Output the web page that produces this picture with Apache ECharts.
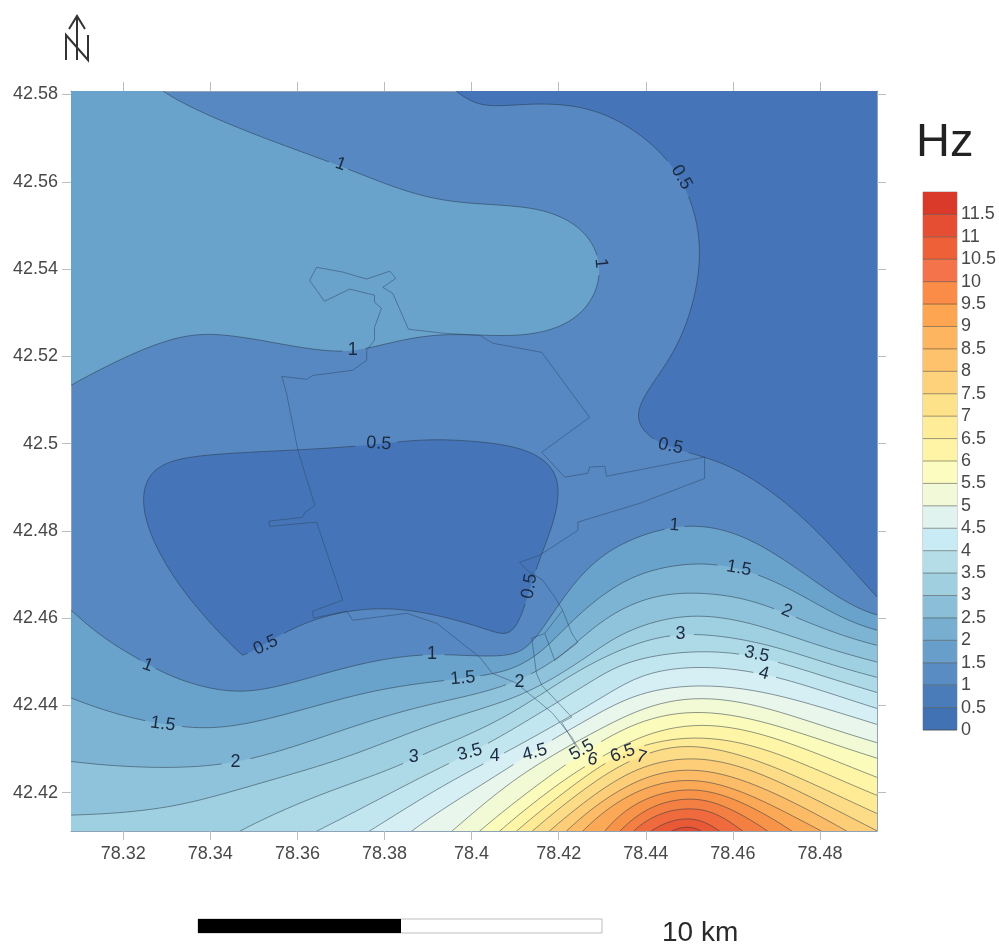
<!DOCTYPE html>
<html>
<head>
<meta charset="utf-8">
<style>html,body{margin:0;padding:0;background:#fff}#c{width:999px;height:949px}</style>
<script src="https://cdn.jsdelivr.net/npm/echarts@6/dist/echarts.min.js"></script>
</head>
<body>
<div id="c"></div>
<script>
// ---- axes ----
const lonRange = [78.3080, 78.4931];
const latRange = [42.4112, 42.5808];
const lonTicks = [78.32, 78.34, 78.36, 78.38, 78.4, 78.42, 78.44, 78.46, 78.48];
const latTicks = [42.42, 42.44, 42.46, 42.48, 42.5, 42.52, 42.54, 42.56, 42.58];
const legendLabels = [0, 0.5, 1, 1.5, 2, 2.5, 3, 3.5, 4, 4.5, 5, 5.5, 6, 6.5, 7, 7.5, 8, 8.5, 9, 9.5, 10, 10.5, 11, 11.5];
const legendMax = 12;

// ---- band colours, lowest band first ----
const plotColors = ['#4575b8','#5788c2','#69a2ca','#7db4d4','#8fc3db','#9fd0e1','#aedae7','#c2e6ef','#d5eff4','#e8f6eb','#f2f9d5','#fbfbbc','#fff5a6','#ffeb95','#fddc88','#fdcd78','#fcbb66','#fba957','#f8934a','#f47f43','#ef6a3c','#e85a36','#e04a2f','#d93a2a'];
const legendColors = ['#4172b4','#4a7cb9','#588cc2','#689fca','#78afd0','#8bbfd9','#a0cfdf','#b4dde8','#c8ebf5','#e0f3ee','#f2f9d8','#fcfcc0','#fff3a5','#ffec98','#fee28a','#fdd27a','#fdc26b','#fdb55f','#fda550','#fb8c47','#f5734a','#ee6038','#e54e32','#d93a2a'];

// ---- contour lines as [lon, lat] ----
const c05NE = [[78.3938,42.5833],[78.3961,42.5807],[78.4012,42.5773],[78.4048,42.5771],[78.4127,42.5780],[78.4218,42.5780],[78.4294,42.5764],[78.4370,42.5725],[78.4432,42.5672],[78.4471,42.5626],[78.4508,42.5558],[78.4526,42.5473],[78.4526,42.5404],[78.4508,42.5299],[78.4471,42.5221],[78.4439,42.5168],[78.4402,42.5122],[78.4379,42.5076],[78.4379,42.5046],[78.4409,42.5012],[78.4448,42.4991],[78.4524,42.4973],[78.4586,42.4955],[78.4662,42.4911],[78.4738,42.4854],[78.4816,42.4778],[78.4875,42.4710],[78.4930,42.4648],[78.4960,42.4618]];
const c05C = [[78.3474,42.4515],[78.3428,42.4556],[78.3359,42.4634],[78.3300,42.4710],[78.3256,42.4801],[78.3240,42.4863],[78.3249,42.4923],[78.3284,42.4955],[78.3346,42.4971],[78.3437,42.4978],[78.3589,42.4985],[78.3727,42.4991],[78.3819,42.5003],[78.3897,42.5012],[78.3973,42.5007],[78.4048,42.5003],[78.4110,42.4991],[78.4156,42.4973],[78.4191,42.4943],[78.4205,42.4900],[78.4195,42.4840],[78.4175,42.4778],[78.4152,42.4732],[78.4129,42.4648],[78.4110,42.4588],[78.4087,42.4556],[78.4058,42.4567],[78.4019,42.4579],[78.3934,42.4606],[78.3851,42.4620],[78.3782,42.4625],[78.3713,42.4616],[78.3635,42.4600],[78.3564,42.4565],[78.3513,42.4531],[78.3474,42.4515]];
const c1NW = [[78.3261,42.5833],[78.3284,42.5807],[78.3359,42.5768],[78.3437,42.5734],[78.3552,42.5688],[78.3667,42.5649],[78.3743,42.5619],[78.3819,42.5587],[78.3897,42.5564],[78.3973,42.5548],[78.4087,42.5548],[78.4163,42.5539],[78.4232,42.5512],[78.4278,42.5470],[78.4299,42.5413],[78.4294,42.5358],[78.4264,42.5305],[78.4218,42.5271],[78.4156,42.5250],[78.4087,42.5246],[78.4019,42.5248],[78.3934,42.5253],[78.3858,42.5244],[78.3766,42.5218],[78.3720,42.5209],[78.3651,42.5211],[78.3552,42.5230],[78.3460,42.5248],[78.3375,42.5255],[78.3313,42.5244],[78.3208,42.5202],[78.3146,42.5168],[78.3084,42.5138],[78.3054,42.5117]];
const c1S = [[78.3054,42.4641],[78.3081,42.4618],[78.3130,42.4572],[78.3185,42.4533],[78.3244,42.4503],[78.3284,42.4476],[78.3359,42.4446],[78.3437,42.4430],[78.3497,42.4430],[78.3575,42.4446],[78.3667,42.4476],[78.3789,42.4508],[78.3881,42.4517],[78.3950,42.4517],[78.4019,42.4512],[78.4081,42.4512],[78.4115,42.4522],[78.4140,42.4544],[78.4168,42.4584],[78.4193,42.4618],[78.4241,42.4694],[78.4301,42.4749],[78.4370,42.4785],[78.4448,42.4808],[78.4508,42.4815],[78.4586,42.4806],[78.4662,42.4771],[78.4738,42.4721],[78.4816,42.4664],[78.4875,42.4625],[78.4930,42.4606],[78.4960,42.4600]];
const c1_5 = [[78.3054,42.4428],[78.3081,42.4416],[78.3153,42.4389],[78.3231,42.4366],[78.3329,42.4350],[78.3398,42.4345],[78.3483,42.4354],[78.3589,42.4384],[78.3697,42.4414],[78.3773,42.4434],[78.3874,42.4451],[78.3950,42.4457],[78.4026,42.4469],[78.4081,42.4476],[78.4127,42.4499],[78.4172,42.4531],[78.4202,42.4565],[78.4278,42.4641],[78.4356,42.4694],[78.4432,42.4717],[78.4508,42.4726],[78.4570,42.4726],[78.4662,42.4703],[78.4738,42.4664],[78.4816,42.4618],[78.4875,42.4588],[78.4930,42.4572],[78.4960,42.4565]];
const c2 = [[78.3054,42.4274],[78.3081,42.4272],[78.3169,42.4260],[78.3284,42.4256],[78.3398,42.4258],[78.3490,42.4274],[78.3589,42.4304],[78.3697,42.4340],[78.3812,42.4382],[78.3927,42.4407],[78.4019,42.4428],[78.4110,42.4451],[78.4195,42.4503],[78.4248,42.4549],[78.4301,42.4600],[78.4379,42.4641],[78.4448,42.4657],[78.4524,42.4661],[78.4623,42.4648],[78.4701,42.4625],[78.4816,42.4565],[78.4930,42.4538],[78.4960,42.4531]];
const c2_5 = [[78.3054,42.4148],[78.3081,42.4148],[78.3208,42.4153],[78.3322,42.4166],[78.3437,42.4198],[78.3552,42.4235],[78.3697,42.4270],[78.3812,42.4320],[78.3927,42.4366],[78.4042,42.4396],[78.4117,42.4423],[78.4195,42.4464],[78.4271,42.4515],[78.4317,42.4549],[78.4370,42.4577],[78.4448,42.4602],[78.4531,42.4611],[78.4639,42.4595],[78.4754,42.4549],[78.4846,42.4522],[78.4930,42.4499],[78.4960,42.4492]];
const c3 = [[78.3433,42.4091],[78.3467,42.4114],[78.3552,42.4153],[78.3667,42.4205],[78.3773,42.4235],[78.3851,42.4270],[78.3897,42.4292],[78.4002,42.4336],[78.4081,42.4373],[78.4156,42.4423],[78.4232,42.4473],[78.4317,42.4519],[78.4386,42.4545],[78.4455,42.4563],[78.4524,42.4567],[78.4662,42.4549],[78.4754,42.4515],[78.4846,42.4487],[78.4930,42.4464],[78.4960,42.4457]];
const c3_5 = [[78.3605,42.4091],[78.3646,42.4114],[78.3743,42.4159],[78.3851,42.4221],[78.3950,42.4267],[78.4042,42.4313],[78.4117,42.4359],[78.4195,42.4405],[78.4271,42.4453],[78.4317,42.4480],[78.4370,42.4508],[78.4485,42.4526],[78.4600,42.4526],[78.4701,42.4503],[78.4811,42.4464],[78.4930,42.4430],[78.4960,42.4421]];
const c4 = [[78.3731,42.4091],[78.3770,42.4114],[78.3851,42.4166],[78.3927,42.4212],[78.4026,42.4267],[78.4081,42.4292],[78.4156,42.4336],[78.4232,42.4377],[78.4317,42.4428],[78.4370,42.4464],[78.4432,42.4480],[78.4501,42.4490],[78.4593,42.4487],[78.4701,42.4469],[78.4800,42.4434],[78.4930,42.4393],[78.4960,42.4384]];
const c4_5 = [[78.3835,42.4091],[78.3865,42.4114],[78.3927,42.4159],[78.4002,42.4205],[78.4103,42.4267],[78.4179,42.4320],[78.4232,42.4347],[78.4317,42.4396],[78.4386,42.4434],[78.4524,42.4457],[78.4678,42.4434],[78.4800,42.4396],[78.4930,42.4357],[78.4960,42.4347]];
const c5 = [[78.3931,42.4091],[78.3957,42.4114],[78.4019,42.4166],[78.4110,42.4244],[78.4195,42.4290],[78.4317,42.4359],[78.4409,42.4405],[78.4524,42.4428],[78.4662,42.4405],[78.4793,42.4354],[78.4930,42.4315],[78.4960,42.4306]];
const c5_5 = [[78.3996,42.4091],[78.4019,42.4114],[78.4103,42.4182],[78.4186,42.4244],[78.4248,42.4286],[78.4317,42.4331],[78.4409,42.4377],[78.4524,42.4396],[78.4662,42.4370],[78.4800,42.4320],[78.4930,42.4279],[78.4960,42.4270]];
const c6 = [[78.4042,42.4091],[78.4065,42.4114],[78.4156,42.4189],[78.4232,42.4244],[78.4278,42.4270],[78.4317,42.4292],[78.4409,42.4343],[78.4524,42.4368],[78.4662,42.4343],[78.4800,42.4286],[78.4930,42.4235],[78.4960,42.4224]];
const c6_5 = [[78.4081,42.4091],[78.4103,42.4114],[78.4202,42.4194],[78.4294,42.4263],[78.4349,42.4292],[78.4409,42.4315],[78.4524,42.4338],[78.4662,42.4313],[78.4800,42.4247],[78.4930,42.4194],[78.4960,42.4182]];
const c7 = [[78.4117,42.4091],[78.4140,42.4114],[78.4237,42.4194],[78.4317,42.4251],[78.4386,42.4286],[78.4455,42.4306],[78.4524,42.4313],[78.4662,42.4281],[78.4800,42.4210],[78.4930,42.4153],[78.4960,42.4139]];
const c7_5 = [[78.4156,42.4091],[78.4179,42.4114],[78.4271,42.4189],[78.4352,42.4247],[78.4432,42.4274],[78.4524,42.4286],[78.4639,42.4263],[78.4777,42.4189],[78.4930,42.4114],[78.4972,42.4091]];
const c8 = [[78.4198,42.4091],[78.4218,42.4114],[78.4294,42.4182],[78.4375,42.4228],[78.4444,42.4251],[78.4524,42.4258],[78.4627,42.4235],[78.4754,42.4171],[78.4869,42.4109],[78.4896,42.4091]];
const c8_5 = [[78.4237,42.4091],[78.4255,42.4114],[78.4317,42.4171],[78.4386,42.4210],[78.4455,42.4228],[78.4524,42.4233],[78.4616,42.4212],[78.4731,42.4148],[78.4811,42.4109],[78.4841,42.4091]];
const c9 = [[78.4290,42.4091],[78.4306,42.4114],[78.4352,42.4164],[78.4409,42.4194],[78.4478,42.4208],[78.4535,42.4210],[78.4616,42.4185],[78.4696,42.4137],[78.4742,42.4109],[78.4765,42.4091]];
const c9_5 = [[78.4322,42.4091],[78.4340,42.4114],[78.4386,42.4155],[78.4432,42.4178],[78.4489,42.4187],[78.4535,42.4187],[78.4593,42.4166],[78.4650,42.4132],[78.4685,42.4109],[78.4708,42.4091]];
const c10 = [[78.4354,42.4091],[78.4370,42.4114],[78.4409,42.4143],[78.4455,42.4162],[78.4501,42.4164],[78.4542,42.4162],[78.4581,42.4143],[78.4627,42.4109],[78.4650,42.4091]];
const c10_5 = [[78.4386,42.4091],[78.4404,42.4109],[78.4444,42.4132],[78.4478,42.4141],[78.4512,42.4141],[78.4542,42.4132],[78.4574,42.4109],[78.4597,42.4091]];
const c11 = [[78.4428,42.4091],[78.4451,42.4109],[78.4478,42.4123],[78.4512,42.4123],[78.4535,42.4109],[78.4551,42.4091]];

// off-plot corners used to close the filled regions
const cornerNW = [[78.3054,42.5833]];
const cornerNE = [[78.4960,42.5833]];
const cornersS = [[78.4960,42.4079],[78.3054,42.4079]];
const cornerSE = [[78.4960,42.4079]];

// painter's order: each region is filled with the band that lies on its inner side
const regions = [
  {level: '0.5', line: c05NE, close: cornerNE, band: 0},
  {level: '0.5', line: c05C,  close: [],       band: 0},
  {level: '1',   line: c1NW,  close: cornerNW, band: 2},
  {level: '1',   line: c1S,   close: cornersS, band: 2},
  {level: '1.5', line: c1_5,  close: cornersS, band: 3},
  {level: '2',   line: c2,    close: cornersS, band: 4},
  {level: '2.5', line: c2_5,  close: cornersS, band: 5},
  {level: '3',   line: c3,    close: cornerSE, band: 6},
  {level: '3.5', line: c3_5,  close: cornerSE, band: 7},
  {level: '4',   line: c4,    close: cornerSE, band: 8},
  {level: '4.5', line: c4_5,  close: cornerSE, band: 9},
  {level: '5',   line: c5,    close: cornerSE, band: 10},
  {level: '5.5', line: c5_5,  close: cornerSE, band: 11},
  {level: '6',   line: c6,    close: cornerSE, band: 12},
  {level: '6.5', line: c6_5,  close: cornerSE, band: 13},
  {level: '7',   line: c7,    close: cornerSE, band: 14},
  {level: '7.5', line: c7_5,  close: cornerSE, band: 15},
  {level: '8',   line: c8,    close: cornerSE, band: 16},
  {level: '8.5', line: c8_5,  close: cornerSE, band: 17},
  {level: '9',   line: c9,    close: cornerSE, band: 18},
  {level: '9.5', line: c9_5,  close: cornerSE, band: 19},
  {level: '10',  line: c10,   close: cornerSE, band: 20},
  {level: '10.5',line: c10_5, close: cornerSE, band: 21},
  {level: '11',  line: c11,   close: cornerSE, band: 22}
];

// ---- outline of the study area, straight segments ----
const outlineA = [[78.3644,42.5404],[78.3704,42.5393],[78.3759,42.5377],[78.3812,42.5395],[78.3826,42.5379],[78.3796,42.5358],[78.3819,42.5344],[78.3855,42.5262],[78.3934,42.5253],[78.4019,42.5248],[78.4048,42.5230],[78.4161,42.5209],[78.4271,42.5060],[78.4161,42.4980],[78.4214,42.4923],[78.4267,42.4932],[78.4271,42.4946],[78.4306,42.4948],[78.4310,42.4925],[78.4535,42.4969],[78.4535,42.4920],[78.4386,42.4863],[78.4244,42.4820],[78.4244,42.4801],[78.4156,42.4744],[78.4110,42.4728],[78.4127,42.4710],[78.4163,42.4687],[78.4191,42.4648],[78.4209,42.4618],[78.4230,42.4565],[78.4244,42.4544],[78.4191,42.4503],[78.4168,42.4565],[78.4209,42.4618]];
const outlineB = [[78.3644,42.5404],[78.3628,42.5374],[78.3662,42.5326],[78.3720,42.5354],[78.3777,42.5340],[78.3777,42.5324],[78.3793,42.5310],[78.3777,42.5266],[78.3777,42.5237],[78.3759,42.5214],[78.3759,42.5191],[78.3727,42.5168],[78.3635,42.5156],[78.3621,42.5147],[78.3564,42.5154],[78.3575,42.5115],[78.3601,42.4985],[78.3640,42.4858],[78.3617,42.4842],[78.3612,42.4831],[78.3534,42.4822],[78.3536,42.4810],[78.3644,42.4820],[78.3704,42.4641],[78.3635,42.4616],[78.3637,42.4600],[78.3713,42.4616],[78.3727,42.4595],[78.3851,42.4611],[78.3920,42.4588],[78.4019,42.4510],[78.4048,42.4473],[78.4103,42.4451],[78.4186,42.4382],[78.4230,42.4327],[78.4248,42.4297]];
const outlineC = [[78.4168,42.4565],[78.4138,42.4554],[78.4149,42.4473],[78.4161,42.4446],[78.4230,42.4373],[78.4207,42.4361],[78.4241,42.4304]];
const outlines = [outlineA, outlineB, outlineC];

// ---- contour labels: text, lon, lat, rotation in degrees ----
const contourLabels = [
  ['1',78.3699,42.5640,-20],['0.5',78.4482,42.5610,-60],['1',78.4297,42.5413,-85],['1',78.3727,42.5214,0],
  ['0.5',78.3787,42.5000,-3],['0.5',78.4457,42.4994,-12],['1',78.4466,42.4813,-5],['1.5',78.4614,42.4714,-10],
  ['2',78.4724,42.4616,-22],['3',78.4480,42.4563,0],['3.5',78.4655,42.4517,-12],['4',78.4671,42.4473,-15],
  ['0.5',78.4133,42.4673,80],['0.5',78.3527,42.4538,25],['1',78.3256,42.4492,-20],['1',78.3909,42.4517,0],
  ['1.5',78.3980,42.4462,5],['2',78.4110,42.4453,0],['1.5',78.3291,42.4357,-8],['2',78.3458,42.4270,0],
  ['3',78.3867,42.4281,0],['3.5',78.3996,42.4292,15],['4',78.4053,42.4283,0],['4.5',78.4145,42.4292,15],
  ['5.5',78.4253,42.4297,30],['6',78.4278,42.4276,-10],['6.5',78.4347,42.4290,20],['7',78.4390,42.4281,-15]
];

const FONT = '"Liberation Sans", Arial, sans-serif';

function spline(p) {
  const out = [];
  for (let i = 0; i < p.length - 1; i++) {
    const p0 = p[Math.max(i - 1, 0)], p1 = p[i], p2 = p[i + 1], p3 = p[Math.min(i + 2, p.length - 1)];
    for (let k = 0; k < 6; k++) {
      const t = k / 6, t2 = t * t, t3 = t2 * t;
      out.push([
        0.5 * (2 * p1[0] + (p2[0] - p0[0]) * t + (2 * p0[0] - 5 * p1[0] + 4 * p2[0] - p3[0]) * t2 + (3 * p1[0] - p0[0] - 3 * p2[0] + p3[0]) * t3),
        0.5 * (2 * p1[1] + (p2[1] - p0[1]) * t + (2 * p0[1] - 5 * p1[1] + 4 * p2[1] - p3[1]) * t2 + (3 * p1[1] - p0[1] - 3 * p2[1] + p3[1]) * t3)
      ]);
    }
  }
  out.push(p[p.length - 1]);
  return out;
}
// evens out the small kinks left by reading the lines off the picture by eye
function soften(p, radius, passes) {
  let cur = p;
  for (let n = 0; n < passes; n++) {
    cur = cur.map((q, i) => {
      const r = Math.min(radius, i, cur.length - 1 - i);
      let sx = 0, sy = 0;
      for (let j = i - r; j <= i + r; j++) { sx += cur[j][0]; sy += cur[j][1]; }
      return [sx / (2 * r + 1), sy / (2 * r + 1)];
    });
  }
  return cur;
}
function curve(line, api) {
  return soften(spline(line.map(p => api.coord(p))), 5, 2);
}

const chart = echarts.init(document.getElementById('c'), null, {renderer: 'canvas'});

const tickStyle = {show: true, length: 9, lineStyle: {color: '#b9bdc2', width: 1}};
const edgeLine = {show: true, onZero: false, lineStyle: {color: '#8ea3b8', width: 1}};
const labelStyle = {color: '#484848', fontFamily: FONT, fontSize: 18};

chart.setOption({
  animation: false,
  backgroundColor: '#ffffff',
  grid: [
    {left: 71, top: 91, width: 806, height: 740, show: true, backgroundColor: plotColors[1], borderWidth: 0},
    {left: 923, top: 192, width: 34, height: 538, show: true, backgroundColor: 'transparent', borderColor: '#a8abae', borderWidth: 1}
  ],
  xAxis: [
    {type: 'value', gridIndex: 0, position: 'bottom', min: lonRange[0], max: lonRange[1], axisLine: edgeLine,
      axisTick: {...tickStyle, customValues: lonTicks}, splitLine: {show: false},
      axisLabel: {...labelStyle, customValues: lonTicks, margin: 14, formatter: v => String(v)}},
    {type: 'value', gridIndex: 0, position: 'top', min: lonRange[0], max: lonRange[1], axisLine: edgeLine,
      axisTick: {...tickStyle, customValues: lonTicks}, splitLine: {show: false}, axisLabel: {show: false}},
    {type: 'value', gridIndex: 1, min: 0, max: 1, show: false}
  ],
  yAxis: [
    {type: 'value', gridIndex: 0, position: 'left', min: latRange[0], max: latRange[1], axisLine: edgeLine,
      axisTick: {...tickStyle, customValues: latTicks}, splitLine: {show: false},
      axisLabel: {...labelStyle, customValues: latTicks, margin: 13, formatter: v => String(v)}},
    {type: 'value', gridIndex: 0, position: 'right', min: latRange[0], max: latRange[1], axisLine: edgeLine,
      axisTick: {...tickStyle, customValues: latTicks}, splitLine: {show: false}, axisLabel: {show: false}},
    {type: 'value', gridIndex: 1, position: 'right', min: 0, max: legendMax, axisLine: {show: false}, axisTick: {show: false},
      splitLine: {show: false},
      axisLabel: {...labelStyle, customValues: legendLabels, margin: 4, formatter: v => String(v)}}
  ],
  series: [
    {
      name: 'bands', type: 'custom', coordinateSystem: 'cartesian2d', xAxisIndex: 0, yAxisIndex: 0, clip: true, silent: true, z: 2,
      data: regions.map((_, i) => [i]),
      renderItem(params, api) {
        const r = regions[params.dataIndex];
        const pts = curve(r.line, api).concat(r.close.map(p => api.coord(p)));
        return {type: 'polygon', shape: {points: pts}, style: {fill: plotColors[r.band]}};
      }
    },
    {
      name: 'contours', type: 'custom', coordinateSystem: 'cartesian2d', xAxisIndex: 0, yAxisIndex: 0, clip: true, silent: true, z: 3,
      data: regions.map((_, i) => [i]),
      renderItem(params, api) {
        const r = regions[params.dataIndex];
        // the line breaks where its own label sits
        const marks = contourLabels.filter(l => l[0] === r.level).map(l => ({c: api.coord([l[1], l[2]]), rad: 4 + 4.5 * l[0].length}));
        const runs = [[]];
        curve(r.line, api).forEach(q => {
          const hidden = marks.some(m => Math.hypot(q[0] - m.c[0], q[1] - m.c[1]) < m.rad);
          if (hidden) { if (runs[runs.length - 1].length) runs.push([]); }
          else runs[runs.length - 1].push(q);
        });
        return {type: 'group', children: runs.filter(x => x.length > 1).map(x => ({
          type: 'polyline', shape: {points: x}, style: {stroke: 'rgba(38,52,66,0.5)', lineWidth: 1, fill: null}
        }))};
      }
    },
    {
      name: 'outline', type: 'custom', coordinateSystem: 'cartesian2d', xAxisIndex: 0, yAxisIndex: 0, clip: true, silent: true, z: 4,
      data: outlines.map((_, i) => [i]),
      renderItem(params, api) {
        return {type: 'polyline', shape: {points: outlines[params.dataIndex].map(p => api.coord(p))},
          style: {stroke: 'rgba(45,70,100,0.5)', lineWidth: 1, fill: null}};
      }
    },
    {
      name: 'labels', type: 'custom', coordinateSystem: 'cartesian2d', xAxisIndex: 0, yAxisIndex: 0, clip: false, silent: true, z: 5,
      data: contourLabels.map((_, i) => [i]),
      renderItem(params, api) {
        const l = contourLabels[params.dataIndex];
        const c = api.coord([l[1], l[2]]);
        return {type: 'text', x: c[0], y: c[1], rotation: l[3] * Math.PI / 180,
          style: {text: l[0], fill: '#1b2a40', font: '18px ' + FONT, align: 'center', verticalAlign: 'middle'}};
      }
    },
    {
      name: 'legend', type: 'custom', coordinateSystem: 'cartesian2d', xAxisIndex: 2, yAxisIndex: 2, clip: false, silent: true, z: 2,
      data: legendLabels.map((v, i) => [i]),
      renderItem(params, api) {
        const i = params.dataIndex;
        const lo = legendLabels[i];
        const hi = i + 1 < legendLabels.length ? legendLabels[i + 1] : legendMax;
        const a = api.coord([0, lo]), b = api.coord([1, hi]);
        return {type: 'group', children: [
          {type: 'rect', shape: {x: a[0], y: b[1], width: b[0] - a[0], height: a[1] - b[1]}, style: {fill: legendColors[i]}},
          {type: 'line', shape: {x1: a[0], y1: a[1], x2: b[0], y2: a[1]}, style: {stroke: 'rgba(60,60,50,0.5)', lineWidth: 1}}
        ]};
      }
    }
  ],
  graphic: [
    {type: 'text', left: 916, top: 120, style: {text: 'Hz', fill: '#222', font: '47px ' + FONT}},
    {type: 'text', left: 662, top: 919, style: {text: '10 km', fill: '#2a2a2a', font: '28px ' + FONT}},
    {type: 'rect', shape: {x: 198, y: 919, width: 404, height: 14}, style: {fill: '#fff', stroke: '#bdbdbd', lineWidth: 1}},
    {type: 'rect', shape: {x: 198, y: 919, width: 203, height: 14}, style: {fill: '#000'}},
    {type: 'polyline', shape: {points: [[77, 60], [77, 16]]}, style: {stroke: '#333', lineWidth: 2, fill: null}},
    {type: 'polyline', shape: {points: [[69, 29], [77, 16], [85, 29]]}, style: {stroke: '#333', lineWidth: 2, fill: null}},
    {type: 'polyline', shape: {points: [[66, 60], [66, 35], [88, 60], [88, 35]]}, style: {stroke: '#333', lineWidth: 2, fill: null}}
  ]
});
</script>
</body>
</html>
